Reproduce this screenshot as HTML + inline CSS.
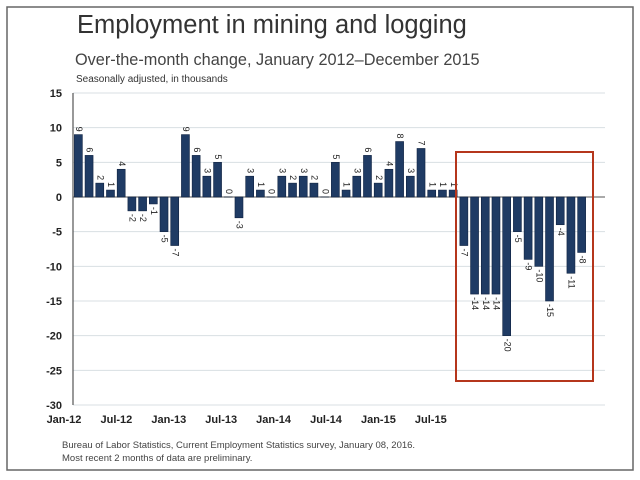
<!DOCTYPE html>
<html><head><meta charset="utf-8"><style>
body{margin:0;background:#fff;}
svg{display:block;font-family:"Liberation Sans",sans-serif;}
</style></head><body>
<svg id="c" width="640" height="480">
<rect x="7" y="7" width="626" height="463" fill="#fff" stroke="#666" stroke-width="1.5"/>
<text x="77" y="33" font-size="25.5" font-weight="300" fill="#333">Employment in mining and logging</text>
<text x="75" y="65" font-size="16.3" fill="#444">Over-the-month change, January 2012–December 2015</text>
<text x="76" y="82" font-size="10" fill="#333">Seasonally adjusted, in thousands</text>
<g id="grid"></g><g id="bars"></g>
<rect x="456" y="152" width="137" height="229" fill="none" stroke="#b5361c" stroke-width="2"/>
<text x="62" y="448" font-size="9.5" fill="#444">Bureau of Labor Statistics, Current Employment Statistics survey, January 08, 2016.</text>
<text x="62" y="461" font-size="9.5" fill="#444">Most recent 2 months of data are preliminary.</text>
</svg>
<script>
const months=[];for(let y=12;y<=15;y++)for(const m of["Jan","Feb","Mar","Apr","May","Jun","Jul","Aug","Sep","Oct","Nov","Dec"])months.push(m+"-"+y);
const values=[9,6,2,1,4,-2,-2,-1,-5,-7,9,6, 3,5,0,-3,3,1,0,3,2,3,2,0, 5,1,3,6,2,4,8,3,7,1,1,1, -7,-14,-14,-14,-20,-5,-9,-10,-15,-4,-11,-8];
const yTicks=[15,10,5,0,-5,-10,-15,-20,-25,-30];
const xTickLabels=["Jan-12","Jul-12","Jan-13","Jul-13","Jan-14","Jul-14","Jan-15","Jul-15"];
const NS="http://www.w3.org/2000/svg";
const L=73,R=587,yTop=93,yBot=405,vmax=15,vmin=-30;
const y=v=>yTop+(vmax-v)*(yBot-yTop)/(vmax-vmin);
const step=(R-L)/values.length;
const x=i=>L+step*(i+0.5);
const g=document.getElementById('grid'),b=document.getElementById('bars');
function mk(t,a,p){const e=document.createElementNS(NS,t);for(const k in a)e.setAttribute(k,a[k]);p.appendChild(e);return e;}
yTicks.forEach(v=>{
 const ln=mk('line',{x1:L,x2:R+18,y1:y(v),y2:y(v),stroke:v===0?'#777':'#d8dfe3','stroke-width':v===0?1.2:1},g);
 
 
 const t=mk('text',{x:62,y:y(v)+4,'text-anchor':'end','font-size':11,'font-weight':'bold',fill:'#222'},g);
 t.textContent=v;
 
 
});
const ax=mk('line',{x1:L,x2:L,y1:yTop,y2:yBot,stroke:'#555','stroke-width':1.2},g);


xTickLabels.forEach((s,i)=>{
 const t=mk('text',{x:64+i*52.4,y:423,'text-anchor':'middle','font-size':11,'font-weight':'bold',fill:'#222'},g);
 t.textContent=s;
 
 
});
values.forEach((v,i)=>{
 const w=8,cx=x(i),y0=y(0),y1=y(v);
 const r=mk('rect',{x:cx-w/2,y:Math.min(y0,y1),width:w,height:Math.max(Math.abs(y1-y0),0.01),fill:'#1f3b64',stroke:'#0f2240','stroke-width':0.6},b);
 
 
 const ly=v>=0?y1-3:y1+3;
 const t=mk('text',{x:0,y:0,'font-size':9,fill:'#222','dominant-baseline':'middle','text-anchor':v>=0?'end':'start',transform:`translate(${cx},${ly}) rotate(90)`},b);
 t.textContent=v;
 
 
});
</script>
</body></html>
